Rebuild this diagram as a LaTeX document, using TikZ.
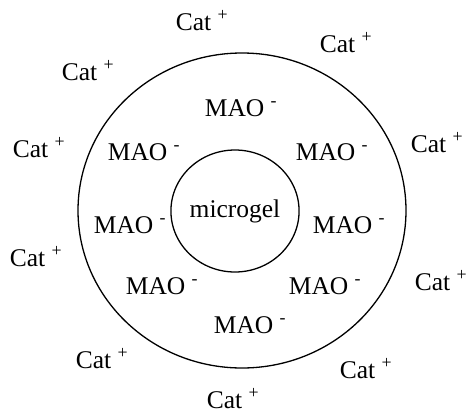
\documentclass[tikz,border=0pt]{standalone}
\usepackage{fontspec}
\setmainfont{Liberation Serif}
\usetikzlibrary{shapes.geometric}

\newcommand{\catlabel}{Cat \textsuperscript{+}}
\newcommand{\maolabel}{MAO \textsuperscript{-}}

\tikzset{
	ion/.style={anchor=base, inner sep=0pt, font=\fontsize{25.5}{30}\selectfont},
	shell/.style={draw, ellipse, line width=1.3pt, inner sep=0pt},
}

\begin{document}
\begin{tikzpicture}[x=1pt, y=-1pt]
	\useasboundingbox (0,0) rectangle (469,413);
	% shells
	\node[shell, minimum width=328pt, minimum height=315pt] (outer) at (242,210.5) {};
	\node[shell, minimum width=126pt, minimum height=122pt, font=\fontsize{25.5}{30}\selectfont] (microgel) at (235,211) {microgel};
	% anions
	\node[ion] (mao1) at (241,116) {\maolabel};
	\node[ion] (mao2) at (144,160) {\maolabel};
	\node[ion] (mao3) at (332,160) {\maolabel};
	\node[ion] (mao4) at (130,233) {\maolabel};
	\node[ion] (mao5) at (349,233) {\maolabel};
	\node[ion] (mao6) at (162,294) {\maolabel};
	\node[ion] (mao7) at (325,294) {\maolabel};
	\node[ion] (mao8) at (250,333) {\maolabel};
	% cations
	\node[ion] (cat1) at (202,30) {\catlabel};
	\node[ion] (cat2) at (346,52) {\catlabel};
	\node[ion] (cat3) at (88,80) {\catlabel};
	\node[ion] (cat4) at (39,157) {\catlabel};
	\node[ion] (cat5) at (437,152) {\catlabel};
	\node[ion] (cat6) at (36,266) {\catlabel};
	\node[ion] (cat7) at (441,290) {\catlabel};
	\node[ion] (cat8) at (102,368) {\catlabel};
	\node[ion] (cat9) at (366,378) {\catlabel};
	\node[ion] (cat10) at (233,408) {\catlabel};
\end{tikzpicture}
\end{document}
